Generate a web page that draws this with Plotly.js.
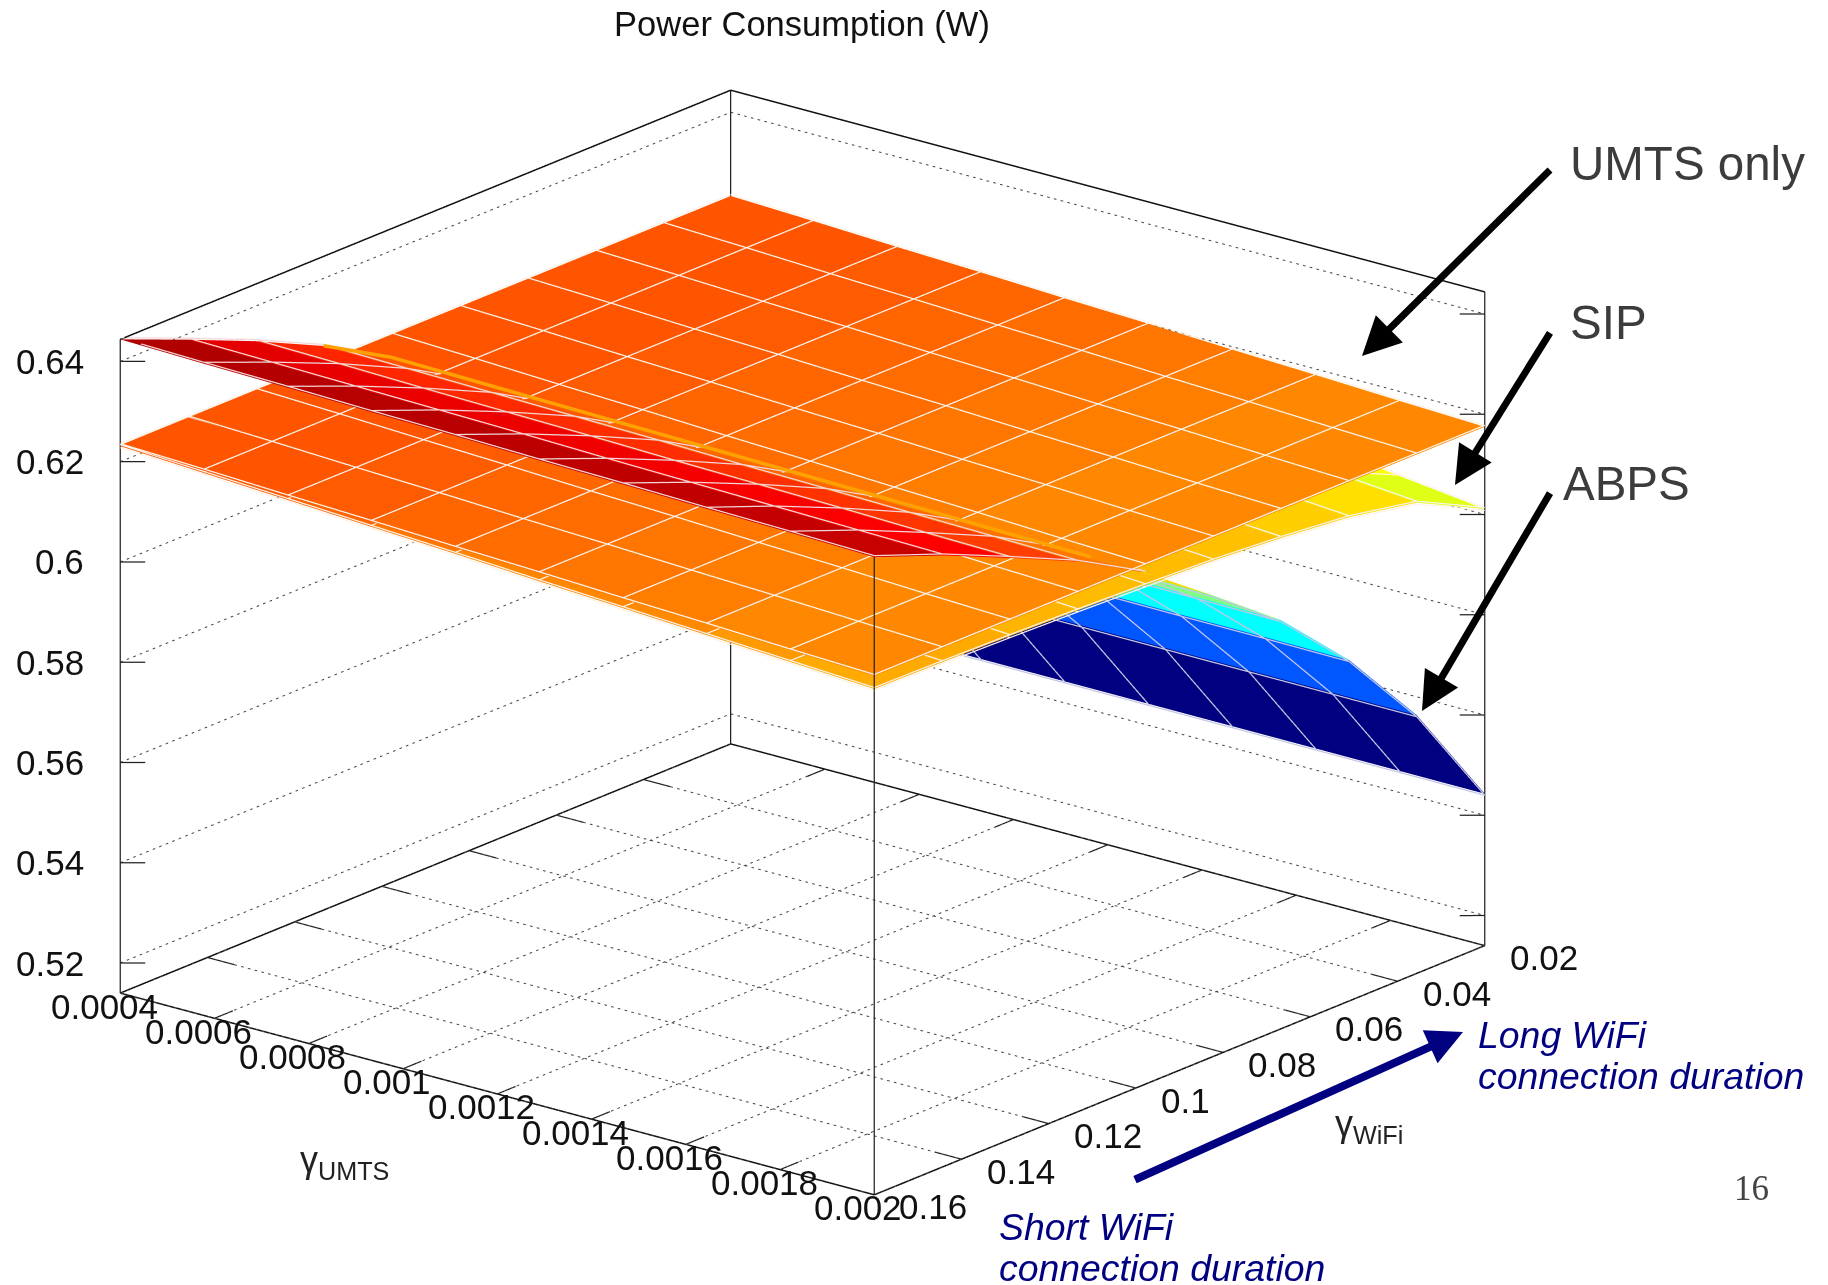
<!DOCTYPE html>
<html><head><meta charset="utf-8">
<script src="https://cdn.plot.ly/plotly-3.0.1.min.js"></script>
<style>html,body{margin:0;padding:0;background:#fff}#c{width:1828px;height:1285px}</style>
</head><body><div id="c"></div>
<script>
const gammaUmts=[0.0004,0.000578,0.000756,0.000933,0.001111,0.001289,0.001467,0.001644,0.001822,0.002];
const gammaWifi=[0.02,0.0356,0.0511,0.0667,0.0822,0.0978,0.1133,0.1289,0.1444,0.16];
const zUmts=[
[.6233,.6227,.6220,.6214,.6207,.6201,.6194,.6188,.6181,.6175],
[.6233,.6227,.6220,.6214,.6207,.6201,.6194,.6188,.6181,.6175],
[.6233,.6227,.6220,.6214,.6207,.6201,.6194,.6188,.6181,.6175],
[.6233,.6227,.6220,.6214,.6207,.6201,.6194,.6188,.6181,.6175],
[.6233,.6227,.6220,.6214,.6207,.6201,.6194,.6188,.6181,.6175],
[.6233,.6227,.6220,.6214,.6207,.6201,.6194,.6188,.6181,.6175],
[.6233,.6227,.6220,.6214,.6207,.6201,.6194,.6188,.6181,.6175],
[.6233,.6227,.6220,.6214,.6207,.6201,.6194,.6188,.6181,.6175],
[.6233,.6227,.6220,.6214,.6207,.6201,.6194,.6188,.6181,.6175],
[.6233,.6227,.6220,.6214,.6207,.6201,.6194,.6188,.6181,.6175]];
const zSip=[
[.6190,.6170,.6150,.6130,.6110,.6090,.6070,.6051,.6031,.6011],
[.6205,.6191,.6177,.6163,.6149,.6135,.6121,.6107,.6093,.6079],
[.6212,.6200,.6188,.6176,.6164,.6153,.6141,.6129,.6117,.6105],
[.6217,.6206,.6195,.6184,.6173,.6163,.6152,.6141,.6130,.6119],
[.6221,.6211,.6201,.6190,.6180,.6170,.6160,.6150,.6139,.6129],
[.6224,.6214,.6204,.6194,.6184,.6175,.6165,.6155,.6145,.6135],
[.6227,.6217,.6208,.6198,.6188,.6179,.6169,.6159,.6150,.6140],
[.6229,.6220,.6210,.6201,.6191,.6182,.6173,.6163,.6154,.6144],
[.6230,.6221,.6212,.6202,.6193,.6184,.6175,.6166,.6156,.6147],
[.6231,.6222,.6213,.6204,.6195,.6185,.6176,.6167,.6158,.6149]];
const zAbps=[
[.5443,.5443,.5443,.5443,.5443,.5443,.5443,.5443,.5443,.5443],
[.5655,.5655,.5655,.5655,.5655,.5655,.5655,.5655,.5655,.5655],
[.5825,.5824,.5824,.5823,.5823,.5822,.5822,.5821,.5821,.5820],
[.5965,.5964,.5963,.5962,.5961,.5959,.5958,.5957,.5956,.5955],
[.6085,.6082,.6079,.6076,.6073,.6071,.6068,.6065,.6062,.6059],
[.6187,.6184,.6181,.6178,.6175,.6172,.6169,.6166,.6163,.6160],
[.6265,.6262,.6259,.6256,.6253,.6249,.6246,.6243,.6240,.6237],
[.6330,.6327,.6323,.6320,.6317,.6313,.6310,.6307,.6303,.6300],
[.6388,.6385,.6382,.6379,.6376,.6372,.6369,.6366,.6363,.6360],
[.6444,.6440,.6437,.6433,.6430,.6426,.6423,.6419,.6416,.6412]];
const xTicks=[0.0004,0.0006,0.0008,0.001,0.0012,0.0014,0.0016,0.0018,0.002];
const xTickText=['0.0004','0.0006','0.0008','0.001','0.0012','0.0014','0.0016','0.0018','0.002'];
const yTicks=[0.02,0.04,0.06,0.08,0.1,0.12,0.14,0.16];
const yTickText=['0.02','0.04','0.06','0.08','0.1','0.12','0.14','0.16'];
const zTicks=[0.52,0.54,0.56,0.58,0.6,0.62,0.64];
const zTickText=['0.52','0.54','0.56','0.58','0.6','0.62','0.64'];
const xBox=[0.0004,0.002], yBox=[0.16,0.02], zBox=[0.514,0.6444];
const xRange=[0.000398,0.002002], yRange=[0.1603,0.0197], zRange=[0.5138,0.6446];
const e=.00001;
const paletteZ=[.54,.558,.5625,.5738,.5888,.6007,.6045,.6075,.6092,.6112,.6124,.6135,.615-e,.615,.616-e,.616,.6172-e,.6172,.6194-e,.6194,.6207-e,.6207,.622-e,.622,.6262,.6275,.6305,.633,.6386,.6416,.65];
const paletteC=['#000080','#000080','#0000ff','#0055ff','#00ffff','#80ff80','#d4ff20','#ffff00','#ffe600','#ffd500','#ffc700','#ffbb00','#ffbb00','#ffaa00','#ffaa00','#ff9900','#ff9900','#ff8800','#ff8800','#ff7700','#ff7700','#ff6600','#ff6600','#ff5500','#ff5500','#ff3300','#ff2000','#ff0000','#c80000','#b00000','#800000'];
const colorscale=paletteZ.map((z,i)=>[(z-.54)/(.65-.54),paletteC[i]]);

function meshOf(name,zz){
  const x=[],y=[],z=[],I=[],J=[],K=[],cell=[];const n=gammaUmts.length,m=gammaWifi.length;
  for(let j=0;j<m;j++)for(let i=0;i<n;i++){x.push(gammaUmts[i]);y.push(gammaWifi[j]);z.push(zz[j][i]);}
  for(let j=0;j<m-1;j++)for(let i=0;i<n-1;i++){
    const a=j*n+i,b=a+1,c=a+n,d=c+1,v=(zz[j][i]+zz[j][i+1]+zz[j+1][i]+zz[j+1][i+1])/4;
    I.push(a,a);J.push(b,d);K.push(d,c);cell.push(v,v);
  }
  return {type:'mesh3d',name,x,y,z,i:I,j:J,k:K,intensity:cell,intensitymode:'cell',colorscale,cmin:.54,cmax:.65,
    showscale:false,flatshading:true,hoverinfo:'skip',
    lighting:{ambient:1,diffuse:0,specular:0,roughness:1,fresnel:0},lightposition:{x:0,y:0,z:1e5}};
}
function wiresOf(zz,lift,color,from,to){
  const x=[],y=[],z=[];
  gammaWifi.forEach((w,j)=>{if(j<from||j>to)return;gammaUmts.forEach((u,i)=>{x.push(u);y.push(w);z.push(zz[j][i]+lift);});x.push(null);y.push(null);z.push(null);});
  gammaUmts.forEach((u,i)=>{gammaWifi.forEach((w,j)=>{if(j<from||j>to)return;x.push(u);y.push(w);z.push(zz[j][i]+lift);});x.push(null);y.push(null);z.push(null);});
  return {type:'scatter3d',mode:'lines',x,y,z,line:{color:color,width:2.5},hoverinfo:'skip',showlegend:false};
}
function segs(list,style){
  const x=[],y=[],z=[];
  list.forEach(s=>{x.push(s[0],s[3],null);y.push(s[1],s[4],null);z.push(s[2],s[5],null);});
  return {type:'scatter3d',mode:'lines',x,y,z,line:style,hoverinfo:'skip',showlegend:false,connectgaps:false};
}
const x0=xBox[0],x1=xBox[1],yF=yBox[0],yB=yBox[1],zF=zBox[0],zT=zBox[1];
const dotted=[],solid=[],thin=[];
function dotLine(a,b,c,d,e,f,count){
  for(let k=0;k<count;k++){const s=k/count,t=(k+0.38)/count;
    dotted.push([a+(d-a)*s,b+(e-b)*s,c+(f-c)*s,a+(d-a)*t,b+(e-b)*t,c+(f-c)*t]);}
}
xTicks.forEach(t=>dotLine(t,yF,zF,t,yB,zF,94));
yTicks.forEach(t=>dotLine(x0,t,zF,x1,t,zF,112));
zTicks.forEach(t=>{dotLine(x0,yF,t,x0,yB,t,94);dotLine(x0,yB,t,x1,yB,t,112);});
// box
solid.push([x0,yF,zF,x1,yF,zF],[x1,yF,zF,x1,yB,zF],[x1,yB,zF,x0,yB,zF],[x0,yB,zF,x0,yF,zF]);
solid.push([x0,yF,zT,x0,yB,zT],[x0,yB,zT,x1,yB,zT]);
thin.push([x0,yF,zF,x0,yF,zT],[x1,yB,zF,x1,yB,zT],[x0,yB,zF,x0,yB,zT],[x1,yF,zF,x1,yF,.6412]);
// ticks
const tx=.000057,ty=.0042,hx=.0000319,hy=.00228;
xTicks.forEach(t=>{thin.push([t,yF,zF,t,yF-ty,zF],[t,yB,zF,t,yB+ty,zF]);});
yTicks.forEach(t=>{thin.push([x1,t,zF,x1-tx,t,zF],[x0,t,zF,x0+tx,t,zF]);});
zTicks.forEach(t=>{thin.push([x0,yF,t,x0+hx,yF-hy,t],[x1,yB,t,x1-hx,yB+hy,t]);});
// the sliver of the ABPS sheet that the reference paints over the UMTS sheet
const ridgeDx=.000117,ridgeDy=.0127,ridgeDz=.0075;
const ridge={type:'scatter3d',mode:'lines',
  x:[gammaUmts[0]].concat(gammaUmts).map(u=>u+ridgeDx),
  y:[gammaWifi[6]].concat(gammaUmts.map(()=>gammaWifi[5])).map(w=>w+ridgeDy),
  z:[zAbps[6][0]].concat(zAbps[5]).map(v=>v+ridgeDz),
  line:{color:'#ffa200',width:7},hoverinfo:'skip',showlegend:false};

const data=[meshOf('UMTS only',zUmts),meshOf('SIP',zSip),meshOf('ABPS',zAbps),
  wiresOf(zUmts,.0003,'#fbf3ea',0,9),wiresOf(zSip,.0003,'#fbf3ea',0,9),wiresOf(zAbps,.0003,'#f3d6d6',5,9),
  wiresOf(zSip,-.0003,'#fbf3ea',0,9),wiresOf(zAbps,-.0003,'#c4c6e6',0,4),
  ridge,
  segs(dotted,{color:'#444',width:2}),
  segs(solid,{color:'#111',width:3}),
  segs(thin,{color:'#222',width:2.5})];

const tickFont={family:'Liberation Sans, Arial, sans-serif',size:35,color:'#111'};
const sceneAnn=[];
function lab(x,y,z,text,xs,ys,xanchor){sceneAnn.push({x,y,z,text,showarrow:false,xshift:xs,yshift:ys,font:tickFont,xanchor:xanchor,yanchor:'middle'});}
xTicks.forEach((t,i)=>lab(t,yF,zF,xTickText[i],-16,-13,'center'));
yTicks.forEach((t,i)=>lab(x1,t,zF,yTickText[i],23,-12,'left'));
zTicks.forEach((t,i)=>lab(x0,yF,t,zTickText[i],-34,0,'right'));

const W=1828,H=1285,px=x=>x/W,py=y=>1-y/H;
const notes=[];
function txt(x,y,text,size,color,extra){notes.push(Object.assign({xref:'paper',yref:'paper',x:px(x),y:py(y),text,showarrow:false,xanchor:'left',yanchor:'middle',
  font:{family:'Liberation Sans, Arial, sans-serif',size,color}},extra||{}));}
function arrow(tx,ty,hx,hy,color,w,size){notes.push({xref:'paper',yref:'paper',x:px(hx),y:py(hy),axref:'pixel',ayref:'pixel',ax:tx-hx,ay:ty-hy,text:' ',showarrow:true,arrowhead:2,arrowsize:size,arrowwidth:w,arrowcolor:color});}
txt(1568,163,'UMTS only',47.5,'#3c3c3c');
txt(1568,322,'SIP',47.5,'#3c3c3c');
txt(1561,483,'ABPS',47.5,'#3c3c3c');
const ital=s=>'<i>'+s+'</i>';
txt(1476,1035,ital('Long WiFi'),37.4,'#000080');
txt(1476,1076,ital('connection duration'),37.4,'#000080');
txt(997,1227,ital('Short WiFi'),37.4,'#000080');
txt(997,1268,ital('connection duration'),37.4,'#000080');
txt(1751,1188,'16',35,'#444',{xanchor:'center',font:{family:'Liberation Serif, Times New Roman, serif',size:35,color:'#444'}});
txt(344,1162,'γ<sub>UMTS</sub>',36,'#222',{xanchor:'center'});
txt(1369,1126,'γ<sub>WiFi</sub>',36,'#222',{xanchor:'center'});
arrow(1553,167,1362,356,'#000',7,1.1);
arrow(1553,328,1455,485,'#000',7,1.1);
arrow(1553,488,1422,711,'#000',7,1.1);
arrow(1132,1181,1463,1032,'#000080',8,0.9);

const ax=(range,tickvals,ticktext)=>({range,tickvals,ticktext,title:{text:''},showgrid:false,zeroline:false,showline:false,showbackground:false,showticklabels:false,ticks:'',showspikes:false});
const layout={width:W,height:H,margin:{l:0,r:0,t:0,b:0},paper_bgcolor:'#fff',showlegend:false,
  title:{text:'Power Consumption (W)',x:802/W,xref:'paper',xanchor:'center',y:py(24),yref:'paper',yanchor:'middle',font:{family:'Liberation Sans, Arial, sans-serif',size:34.5,color:'#111'}},
  scene:{domain:{x:[0,0.878],y:[0,1]},
    xaxis:ax(xRange,xTicks,xTickText),yaxis:ax(yRange,yTicks,yTickText),zaxis:ax(zRange,zTicks,zTickText),
    aspectmode:'manual',aspectratio:{x:1.5138,y:1.5165,z:1.0813},
    camera:{projection:{type:'orthographic'},up:{x:0,y:0,z:1},center:{x:0,y:0,z:0},eye:{x:1.258,y:-1.554,z:0.70}},
    annotations:sceneAnn},
  annotations:notes};
Plotly.newPlot('c',data,layout,{displayModeBar:false,staticPlot:false});
</script></body></html>
